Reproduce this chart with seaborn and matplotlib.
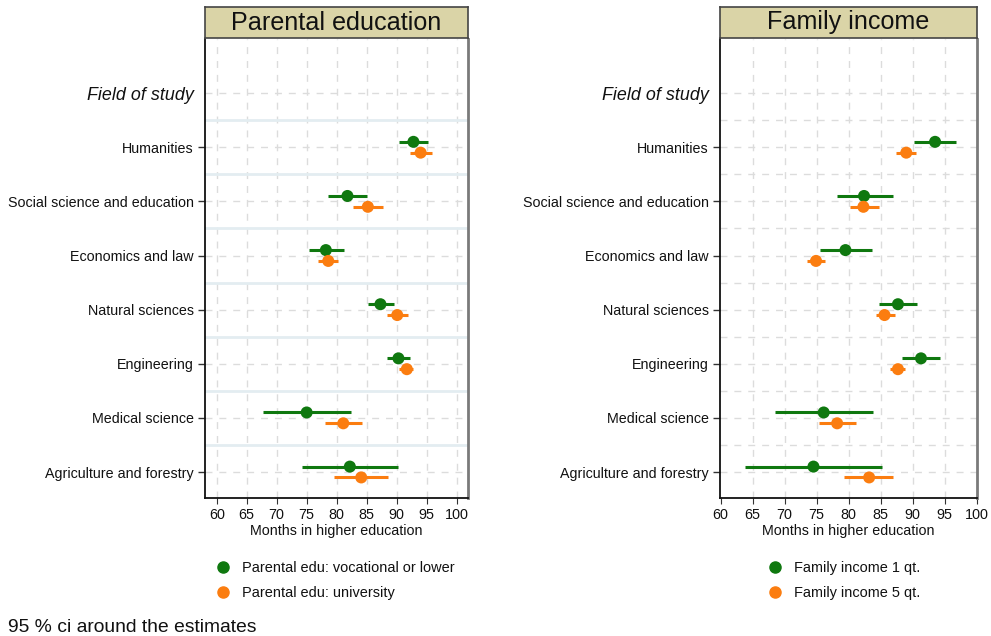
import numpy as np
import pandas as pd
import matplotlib
matplotlib.use("Agg")
import matplotlib.pyplot as plt
from matplotlib.lines import Line2D
import seaborn as sns

# ---------------- data ----------------
fields = ["Humanities", "Social science and education", "Economics and law",
          "Natural sciences", "Engineering", "Medical science", "Agriculture and forestry"]
header = "Field of study"

# Parental education panel
par_low_est = [92.8, 81.8, 78.2, 87.3, 90.3, 75.0, 82.2]
par_low_lo = [90.4, 78.6, 75.4, 85.3, 88.4, 67.8, 74.3]
par_low_hi = [95.2, 85.0, 81.2, 89.5, 92.2, 82.4, 90.2]
par_uni_est = [94.0, 85.2, 78.6, 90.1, 91.7, 81.1, 84.1]
par_uni_lo = [92.2, 82.8, 76.9, 88.4, 90.4, 78.0, 79.6]
par_uni_hi = [95.9, 87.7, 80.3, 91.9, 92.8, 84.2, 88.5]

# Family income panel
inc_q1_est = [93.5, 82.4, 79.5, 87.7, 91.3, 76.1, 74.5]
inc_q1_lo = [90.2, 78.2, 75.5, 84.7, 88.4, 68.5, 63.8]
inc_q1_hi = [96.7, 86.9, 83.6, 90.6, 94.2, 83.8, 85.2]
inc_q5_est = [89.0, 82.3, 74.9, 85.6, 87.7, 78.2, 83.2]
inc_q5_lo = [87.4, 80.2, 73.5, 84.2, 86.5, 75.4, 79.2]
inc_q5_hi = [90.5, 84.7, 76.3, 87.2, 88.8, 81.1, 86.9]

panel_titles = ["Parental education", "Family income"]
par_labels = ["Parental edu: vocational or lower", "Parental edu: university"]
inc_labels = ["Family income 1 qt.", "Family income 5 qt."]
x_ticks = [60, 65, 70, 75, 80, 85, 90, 95, 100]
x_label = "Months in higher education"
footnote = "95 % ci around the estimates"

GREEN = "#0f780f"
ORANGE = "#fb7d10"
KHAKI = "#dad4a7"

sns.set_theme(style="white")
plt.rcParams["font.family"] = ["Liberation Sans", "DejaVu Sans"]

W, H = 991, 636
fig = plt.figure(figsize=(W / 100, H / 100), dpi=100)


def build_df(est1, lo1, hi1, est2, lo2, hi2, labels):
    rows = []
    for i, f in enumerate(fields):
        rows.append(dict(field=f, pos=i + 1 - 0.1, est=est1[i], lo=lo1[i], hi=hi1[i], group=labels[0]))
        rows.append(dict(field=f, pos=i + 1 + 0.1, est=est2[i], lo=lo2[i], hi=hi2[i], group=labels[1]))
    return pd.DataFrame(rows)


def fx(px):
    return px / W


def fy(py):
    return 1 - py / H


panels = [
    dict(df=build_df(par_low_est, par_low_lo, par_low_hi, par_uni_est, par_uni_lo, par_uni_hi, par_labels),
         labels=par_labels, title=panel_titles[0], left=205, right=468, xlim=(58.05, 101.9),
         vgrid=[60, 65, 70, 75, 80, 85, 90, 95, 100], blue_sep=True, leg_x=215.5),
    dict(df=build_df(inc_q1_est, inc_q1_lo, inc_q1_hi, inc_q5_est, inc_q5_lo, inc_q5_hi, inc_labels),
         labels=inc_labels, title=panel_titles[1], left=720, right=977, xlim=(59.9, 100.05),
         vgrid=[65, 70, 75, 80, 85, 90, 95], blue_sep=False, leg_x=767.5),
]

top_px, bot_px = 39, 498
for p in panels:
    ax = fig.add_axes([fx(p["left"]), fy(bot_px), fx(p["right"] - p["left"]), (bot_px - top_px) / H])
    ax.set_facecolor("white")

    # grid lines
    for v in p["vgrid"]:
        ax.axvline(v, color="#dcdcdc", lw=1.0, ls=(0, (5, 5)), zorder=0)
    for yv in range(0, 8):
        ax.axhline(yv, color="#dcdcdc", lw=1.0, ls=(0, (5, 5)), zorder=0)
    for yv in np.arange(0.5, 7.5, 1.0):
        if p["blue_sep"]:
            ax.axhline(yv, color="#e3edf1", lw=2.0, zorder=0.5)
        else:
            ax.axhline(yv, color="#dcdcdc", lw=1.0, ls=(0, (5, 5)), zorder=0)

    df = p["df"]
    pal = {p["labels"][0]: GREEN, p["labels"][1]: ORANGE}
    for g, col in pal.items():
        sub = df[df["group"] == g]
        ax.hlines(sub["pos"], sub["lo"], sub["hi"], color=col, lw=2.2, zorder=2)
    sns.scatterplot(data=df, x="est", y="pos", hue="group", palette=pal, s=75,
                    edgecolor="none", legend=False, ax=ax, zorder=3)

    ax.set_yticks(range(0, 8))
    ax.set_yticklabels([header] + fields, fontsize=10.3, color="#111111")
    ax.set_xticks(x_ticks)
    ax.set_xticklabels([str(t) for t in x_ticks], fontsize=10.4, color="#111111")
    ax.set_xlim(*p["xlim"])
    ax.set_ylim(7.48, -1.0)
    ax.set_xlabel(x_label, fontsize=10.3, labelpad=2, color="#111111")
    ax.set_ylabel("")
    ax.tick_params(axis="y", length=5, width=1, pad=3, color="#333333", left=True)
    ax.tick_params(axis="x", length=4, width=0.8, pad=3, color="#333333", bottom=True)
    first = ax.get_yticklabels()[0]
    first.set_fontstyle("italic")
    first.set_fontsize(12.9)
    ax.yaxis.get_major_ticks()[0].tick1line.set_visible(False)

    for s in ["left", "bottom"]:
        ax.spines[s].set_color("#111111")
        ax.spines[s].set_linewidth(1.3)
    ax.spines["right"].set_color("#7a7a7a")
    ax.spines["right"].set_linewidth(2.0)
    ax.spines["top"].set_visible(False)

    # title box
    tax = fig.add_axes([fx(p["left"]), fy(38), fx(p["right"] - p["left"]), 31 / H])
    tax.set_facecolor(KHAKI)
    tax.set_xticks([])
    tax.set_yticks([])
    for s in tax.spines.values():
        s.set_color("#444444")
        s.set_linewidth(1.2)
    tax.text(0.5, 0.5, p["title"], ha="center", va="center", fontsize=18.1, color="#111111",
             transform=tax.transAxes)

    handles = [Line2D([0], [0], marker="o", ls="none", color=GREEN, markersize=8),
               Line2D([0], [0], marker="o", ls="none", color=ORANGE, markersize=8)]
    ax.legend(handles, p["labels"], loc="upper left", bbox_to_anchor=(fx(p["leg_x"]), fy(561)),
              bbox_transform=fig.transFigure, frameon=False, fontsize=10.45, handlelength=1.0,
              handletextpad=0.8, labelspacing=0.77, borderpad=0, borderaxespad=0,
              labelcolor="#111111")

fig.text(fx(8), fy(627), footnote, ha="left", va="center", fontsize=13.9, color="#111111")

fig.savefig("out.png", dpi=100, facecolor="white")
